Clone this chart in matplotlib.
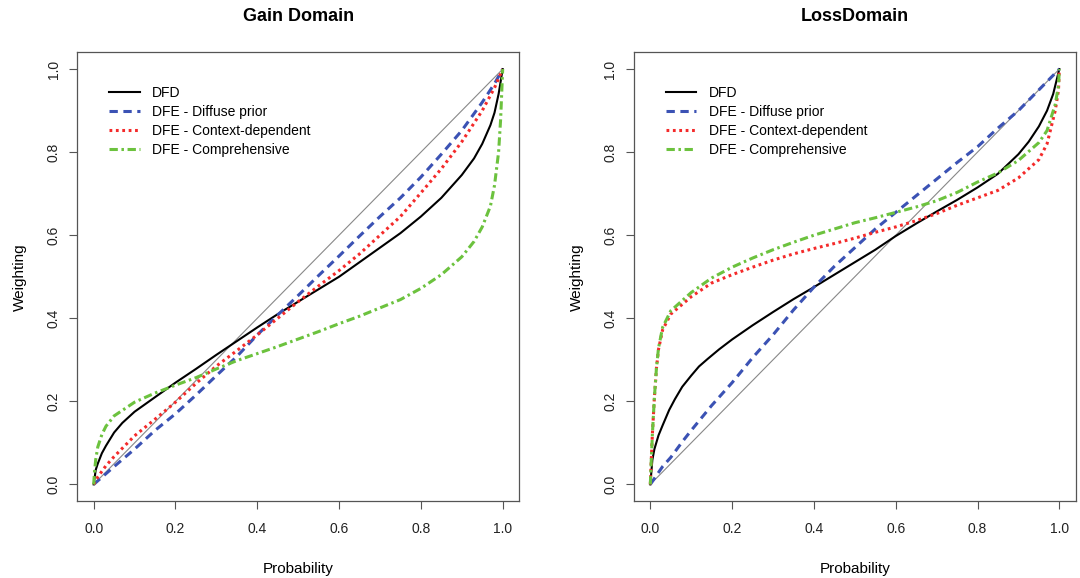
import numpy as np
import matplotlib
matplotlib.use('Agg')
import matplotlib.pyplot as plt

plt.rcParams['font.family'] = ['Liberation Sans', 'DejaVu Sans']
plt.rcParams['lines.scale_dashes'] = False

# ---- data ----
# Gain domain
gain_dfd_x = [0, 0.005, 0.01, 0.02, 0.03, 0.05, 0.07, 0.1, 0.15, 0.2, 0.25, 0.3, 0.35, 0.4,
              0.45, 0.5, 0.55, 0.6, 0.65, 0.7, 0.75, 0.8, 0.85, 0.9, 0.93, 0.95, 0.97,
              0.98, 0.99, 1.0]
gain_dfd_y = [0, 0.035, 0.05, 0.075, 0.093, 0.125, 0.148, 0.175, 0.21, 0.245, 0.278, 0.312,
              0.345, 0.378, 0.41, 0.44, 0.47, 0.50, 0.535, 0.57, 0.605, 0.645, 0.69, 0.745,
              0.785, 0.82, 0.865, 0.895, 0.94, 1.0]

gain_diffuse_x = [0, 0.05, 0.1, 0.15, 0.2, 0.25, 0.3, 0.35, 0.4, 0.45, 0.5, 0.55, 0.6,
                  0.65, 0.7, 0.75, 0.8, 0.85, 0.9, 0.95, 0.98, 1.0]
gain_diffuse_y = [0, 0.043, 0.085, 0.13, 0.17, 0.215, 0.262, 0.308, 0.36, 0.408, 0.455, 0.503,
                  0.55, 0.598, 0.645, 0.69, 0.74, 0.795, 0.852, 0.92, 0.965, 1.0]

gain_context_x = [0, 0.01, 0.03, 0.05, 0.1, 0.15, 0.2, 0.25, 0.3, 0.35, 0.4, 0.45, 0.5, 0.55,
                  0.6, 0.65, 0.7, 0.75, 0.8, 0.85, 0.9, 0.95, 0.98, 1.0]
gain_context_y = [0, 0.018, 0.045, 0.067, 0.117, 0.157, 0.198, 0.243, 0.285, 0.322, 0.36,
                  0.40, 0.44, 0.478, 0.515, 0.555, 0.60, 0.645, 0.702, 0.76, 0.825, 0.90,
                  0.955, 1.0]

gain_compr_x = [0, 0.002, 0.005, 0.01, 0.02, 0.03, 0.05, 0.1, 0.15, 0.2, 0.25, 0.3, 0.35, 0.4,
                0.45, 0.5, 0.55, 0.6, 0.65, 0.7, 0.75, 0.8, 0.85, 0.9, 0.93, 0.95, 0.97, 0.98,
                0.99, 0.995, 1.0]
gain_compr_y = [0, 0.03, 0.06, 0.09, 0.12, 0.14, 0.165, 0.198, 0.22, 0.239, 0.257, 0.278,
                0.298, 0.315, 0.332, 0.35, 0.368, 0.387, 0.405, 0.425, 0.445, 0.472, 0.505,
                0.548, 0.585, 0.62, 0.67, 0.72, 0.8, 0.88, 1.0]

# Loss domain
loss_dfd_x = [0, 0.005, 0.01, 0.02, 0.03, 0.046, 0.06, 0.078, 0.1, 0.119, 0.14, 0.168, 0.2,
              0.225, 0.25, 0.3, 0.35, 0.4, 0.45, 0.5, 0.55, 0.6, 0.65, 0.7, 0.75, 0.8, 0.85,
              0.9, 0.925, 0.95, 0.97, 0.985, 1.0]
loss_dfd_y = [0, 0.059, 0.085, 0.118, 0.142, 0.179, 0.205, 0.235, 0.262, 0.284, 0.302, 0.325,
              0.349, 0.366, 0.383, 0.415, 0.446, 0.475, 0.505, 0.535, 0.565, 0.598, 0.628,
              0.657, 0.685, 0.715, 0.748, 0.795, 0.825, 0.862, 0.90, 0.94, 1.0]

loss_diffuse_x = [0, 0.03, 0.05, 0.08, 0.1, 0.15, 0.2, 0.25, 0.3, 0.35, 0.4, 0.45, 0.5, 0.55,
                  0.6, 0.65, 0.7, 0.75, 0.8, 0.85, 0.9, 0.95, 1.0]
loss_diffuse_y = [0, 0.043, 0.065, 0.105, 0.13, 0.19, 0.245, 0.305, 0.36, 0.42, 0.475, 0.525,
                  0.57, 0.615, 0.655, 0.695, 0.735, 0.775, 0.813, 0.858, 0.9, 0.95, 1.0]

loss_context_x = [0, 0.002, 0.005, 0.01, 0.015, 0.02, 0.03, 0.05, 0.1, 0.15, 0.2, 0.25, 0.3,
                  0.35, 0.4, 0.45, 0.5, 0.55, 0.6, 0.65, 0.7, 0.75, 0.8, 0.85, 0.9, 0.95,
                  0.97, 0.99, 0.998, 1.0]
loss_context_y = [0, 0.05, 0.12, 0.21, 0.28, 0.325, 0.372, 0.41, 0.452, 0.485, 0.505, 0.523,
                  0.54, 0.555, 0.568, 0.58, 0.593, 0.607, 0.62, 0.635, 0.652, 0.672, 0.69,
                  0.708, 0.738, 0.782, 0.82, 0.90, 0.95, 1.0]

loss_compr_x = loss_context_x
loss_compr_y = [0, 0.05, 0.12, 0.21, 0.28, 0.328, 0.378, 0.418, 0.462, 0.497, 0.523, 0.545,
                0.565, 0.583, 0.6, 0.615, 0.63, 0.642, 0.655, 0.668, 0.683, 0.703, 0.728,
                0.75, 0.78, 0.823, 0.852, 0.915, 0.96, 1.0]

labels = ['DFD', 'DFE - Diffuse prior', 'DFE - Context-dependent', 'DFE - Comprehensive']
ticks = [0.0, 0.2, 0.4, 0.6, 0.8, 1.0]

panels = [
    ('Gain Domain', [(gain_dfd_x, gain_dfd_y), (gain_diffuse_x, gain_diffuse_y),
                     (gain_context_x, gain_context_y), (gain_compr_x, gain_compr_y)]),
    ('LossDomain', [(loss_dfd_x, loss_dfd_y), (loss_diffuse_x, loss_diffuse_y),
                    (loss_context_x, loss_context_y), (loss_compr_x, loss_compr_y)]),
]

styles = [
    dict(color='black', lw=1.5, ls='-'),
    dict(color='#3b52b4', lw=2.2, dashes=(6, 4)),
    dict(color='#f42a2a', lw=2.2, dashes=(2, 2.6)),
    dict(color='#6cc23e', lw=2.2, dashes=(6, 2.6, 1.8, 2.6)),
]

fig = plt.figure(figsize=(10.8, 5.78), dpi=100)
ax_left = [0.0716, 0.587]

for i, (title, curves) in enumerate(panels):
    ax = fig.add_axes([ax_left[i], 0.1332, 0.409, 0.776])

    # identity line
    ax.plot([0, 1], [0, 1], color='#888888', lw=0.8)

    for (x, y), st, lab in zip(curves, styles, labels):
        ax.plot(x, y, label=lab, **st)

    ax.set_xlim(-0.04, 1.04)
    ax.set_ylim(-0.04, 1.04)
    ax.set_xticks(ticks)
    ax.set_yticks(ticks)
    ax.set_xticklabels(['%.1f' % t for t in ticks])
    ax.set_yticklabels(['%.1f' % t for t in ticks], rotation=90, va='center')
    ax.tick_params(direction='out', length=6, width=0.8, colors='#555555',
                   labelcolor='#222222', labelsize=10)
    ax.tick_params(axis='x', pad=9)
    ax.tick_params(axis='y', pad=6)
    for s in ax.spines.values():
        s.set_color('#555555')
        s.set_linewidth(0.9)

    ax.set_title(title, fontsize=13, fontweight='bold', pad=23)
    ax.set_xlabel('Probability', fontsize=11, labelpad=19)
    ax.set_ylabel('Weighting', fontsize=11, labelpad=14)

    ax.legend(loc='upper left', bbox_to_anchor=(0.072, 0.925), frameon=False,
              fontsize=10, handlelength=2.2, handletextpad=0.9, labelspacing=0.36,
              borderpad=0, borderaxespad=0)

plt.savefig('out.png', dpi=100)
